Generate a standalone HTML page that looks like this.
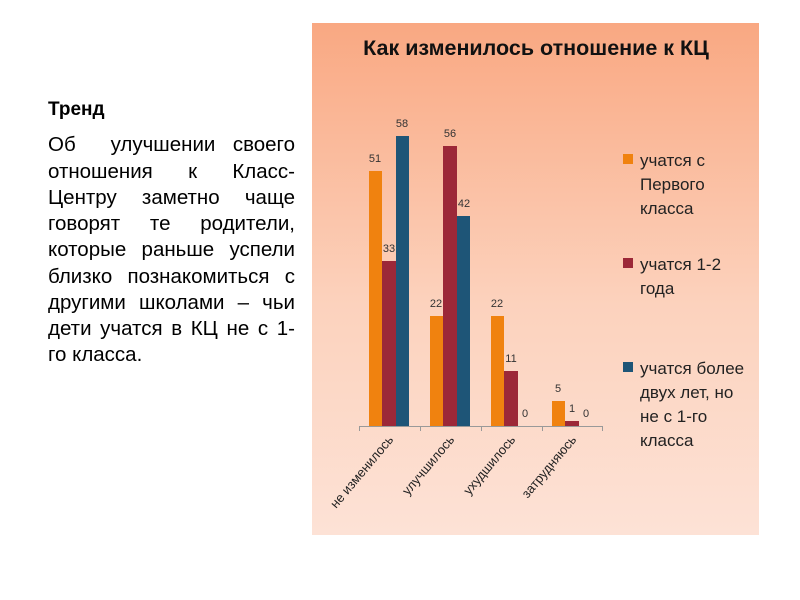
<!DOCTYPE html>
<html><head><meta charset="utf-8"><style>
body{margin:0;width:800px;height:600px;background:#fff;position:relative;overflow:hidden;font-family:"Liberation Sans",sans-serif}
#t{position:absolute;left:48px;top:97px;width:247px;font-size:20.5px;line-height:26.25px;color:#000}
#t div{text-align:justify;text-align-last:justify;white-space:nowrap}
#panel{position:absolute;left:312px;top:23px;width:447px;height:512px;background:linear-gradient(#f9a882,#fcd2bd 55%,#fde2d6)}
</style></head><body>
<div id="t"><div style="font-weight:bold;margin-bottom:9px;text-align-last:left;font-size:19px">Тренд</div>
<div>Об&nbsp; улучшении своего</div>
<div>отношения к Класс-</div>
<div>Центру заметно чаще</div>
<div>говорят те родители,</div>
<div>которые раньше успели</div>
<div>близко познакомиться с</div>
<div>другими школами – чьи</div>
<div>дети учатся в КЦ не с 1-</div>
<div style="text-align-last:left">го класса.</div></div>
<div id="panel"></div>
<svg width="800" height="600" style="position:absolute;left:0;top:0" font-family="Liberation Sans, sans-serif">
<text x="536" y="55" font-size="21.5" font-weight="bold" text-anchor="middle" fill="#111">Как  изменилось отношение к КЦ</text>
<g>
<rect x="369" y="171" width="13" height="255" fill="#f0820f"/>
<rect x="382" y="261" width="14" height="165" fill="#9c2838"/>
<rect x="396" y="136" width="13" height="290" fill="#1e5577"/>
<rect x="430" y="316" width="13" height="110" fill="#f0820f"/>
<rect x="443" y="146" width="14" height="280" fill="#9c2838"/>
<rect x="457" y="216" width="13" height="210" fill="#1e5577"/>
<rect x="491" y="316" width="13" height="110" fill="#f0820f"/>
<rect x="504" y="371" width="14" height="55" fill="#9c2838"/>
<rect x="552" y="401" width="13" height="25" fill="#f0820f"/>
<rect x="565" y="421" width="14" height="5" fill="#9c2838"/>
</g>
<g stroke="#999" stroke-width="1"><line x1="359" y1="426.5" x2="603" y2="426.5"/>
<line x1="359.5" y1="426" x2="359.5" y2="431"/><line x1="420.5" y1="426" x2="420.5" y2="431"/><line x1="481.5" y1="426" x2="481.5" y2="431"/><line x1="542.5" y1="426" x2="542.5" y2="431"/><line x1="602.5" y1="426" x2="602.5" y2="431"/></g>
<g font-size="11" fill="#333" text-anchor="middle">
<text x="375" y="162">51</text><text x="389" y="252">33</text><text x="402" y="127">58</text>
<text x="436" y="307">22</text><text x="450" y="137">56</text><text x="464" y="207">42</text>
<text x="497" y="307">22</text><text x="511" y="362">11</text><text x="525" y="417">0</text>
<text x="558" y="392">5</text><text x="572" y="412">1</text><text x="586" y="417">0</text>
</g>
<g font-size="13" fill="#222" text-anchor="end">
<text transform="translate(394,440) rotate(-50)">не изменилось</text>
<text transform="translate(455,440) rotate(-50)">улучшилось</text>
<text transform="translate(516,440) rotate(-50)">ухудшилось</text>
<text transform="translate(577,440) rotate(-50)">затрудняюсь</text>
</g>
<g font-size="17" fill="#222">
<rect x="623" y="154" width="10" height="10" fill="#f0820f"/>
<text x="640" y="166">учатся  с</text><text x="640" y="190">Первого</text><text x="640" y="214">класса</text>
<rect x="623" y="258" width="10" height="10" fill="#9c2838"/>
<text x="640" y="270">учатся 1-2</text><text x="640" y="294">года</text>
<rect x="623" y="362" width="10" height="10" fill="#1e5577"/>
<text x="640" y="374">учатся более</text><text x="640" y="398">двух лет, но</text><text x="640" y="422">не с 1-го</text><text x="640" y="446">класса</text>
</g>
</svg>
</body></html>
